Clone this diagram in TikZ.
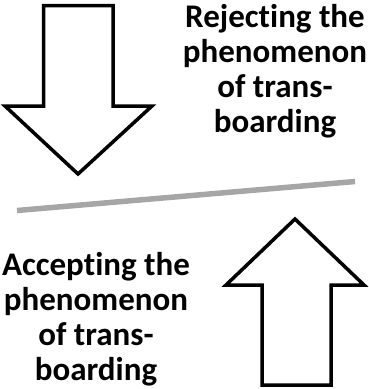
\documentclass[tikz,border=0pt]{standalone}
\usepackage{fontspec}
\setmainfont[Ligatures=NoCommon]{Carlito}
\begin{document}
\begin{tikzpicture}[x=1pt,y=-1pt,
  blockarrow/.style={draw=black,line width=3.5pt,fill=white,miter limit=10},
  divider/.style={draw=black!35,line width=5.5pt},
  caption/.style={align=center,inner sep=0pt,anchor=base,
    font=\bfseries\fontsize{33}{35}\selectfont}]
\useasboundingbox (0,0) rectangle (368,389);
% downward arrow, upper left
\draw[blockarrow] (43.5,5.5) -- (113,5.5) -- (113,106) -- (152,106)
  -- (78,174) -- (5,106) -- (43.5,106) -- cycle;
% upward arrow, lower right
\draw[blockarrow] (262,385) -- (331,385) -- (331,285) -- (364,285)
  -- (295,219) -- (226,285) -- (262,285) -- cycle;
% slanted divider
\coordinate (dl) at (17,210.5);
\coordinate (dr) at (355,181.5);
\draw[divider] (dl) -- (dr);
% captions (base anchor sits on the last line)
\node[caption] (reject) at (275,132) {Rejecting the\\phenomenon\\of trans-\\boarding};
\node[caption] (accept) at (96,380) {Accepting the\\phenomenon\\of trans-\\boarding};
\end{tikzpicture}
\end{document}
